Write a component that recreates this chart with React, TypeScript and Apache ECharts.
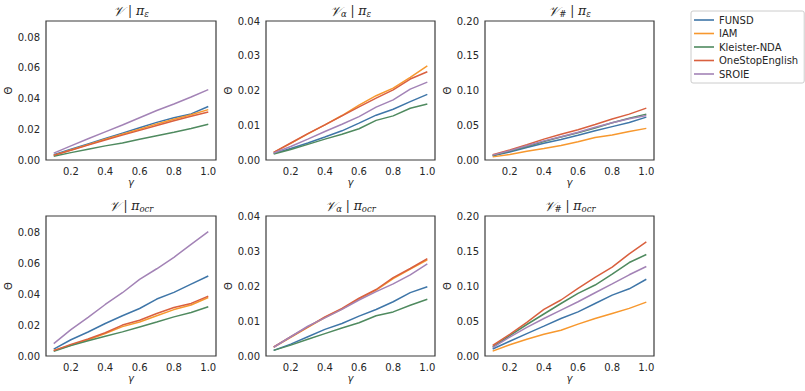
import React, { useEffect, useRef } from "react";
import * as echarts from "echarts";

const gammas = [0.1, 0.2, 0.3, 0.4, 0.5, 0.6, 0.7, 0.8, 0.9, 1.0];
const datasets = ["FUNSD", "IAM", "Kleister-NDA", "OneStopEnglish", "SROIE"];
const colors = ["#3f76a8", "#f7982e", "#4f8a5f", "#d9603f", "#a383b6"];

// V | pi_eps
const vEpsFUNSD = [0.0035, 0.007, 0.0105, 0.014, 0.0175, 0.021, 0.0245, 0.0275, 0.030, 0.0348];
const vEpsIAM = [0.003, 0.0065, 0.010, 0.0135, 0.0168, 0.020, 0.0235, 0.0265, 0.0295, 0.0328];
const vEpsKleister = [0.0025, 0.0048, 0.007, 0.0092, 0.011, 0.0135, 0.0158, 0.018, 0.0205, 0.0233];
const vEpsOneStop = [0.003, 0.0063, 0.0097, 0.013, 0.0162, 0.0193, 0.0225, 0.0255, 0.0285, 0.0313];
const vEpsSROIE = [0.0045, 0.0092, 0.0138, 0.0183, 0.0228, 0.0275, 0.0322, 0.0365, 0.041, 0.0458];

// V_alpha | pi_eps
const vaEpsFUNSD = [0.0019, 0.0033, 0.0049, 0.0066, 0.0084, 0.0106, 0.0129, 0.0146, 0.0168, 0.0189];
const vaEpsIAM = [0.0022, 0.0048, 0.0075, 0.0101, 0.0128, 0.0158, 0.0185, 0.0207, 0.0238, 0.0271];
const vaEpsKleister = [0.0017, 0.003, 0.0045, 0.006, 0.0074, 0.009, 0.0114, 0.0127, 0.0149, 0.0161];
const vaEpsOneStop = [0.0022, 0.0049, 0.0076, 0.0101, 0.0127, 0.0153, 0.0178, 0.0202, 0.0233, 0.0254];
const vaEpsSROIE = [0.002, 0.0039, 0.006, 0.0082, 0.0103, 0.0125, 0.0152, 0.0173, 0.0204, 0.0224];

// V_# | pi_eps
const vhEpsFUNSD = [0.006, 0.0115, 0.018, 0.024, 0.0295, 0.0355, 0.042, 0.048, 0.054, 0.0617];
const vhEpsIAM = [0.0045, 0.008, 0.0125, 0.0165, 0.021, 0.0263, 0.0325, 0.0359, 0.041, 0.0455];
const vhEpsKleister = [0.0065, 0.013, 0.0195, 0.0265, 0.033, 0.039, 0.046, 0.0535, 0.06, 0.066];
const vhEpsOneStop = [0.0075, 0.0145, 0.022, 0.03, 0.037, 0.0435, 0.051, 0.059, 0.066, 0.0746];
const vhEpsSROIE = [0.007, 0.0135, 0.0205, 0.0275, 0.0335, 0.04, 0.047, 0.0535, 0.0595, 0.064];

// V | pi_ocr
const vOcrFUNSD = [0.0045, 0.0105, 0.0155, 0.021, 0.026, 0.0307, 0.0368, 0.0411, 0.0465, 0.0517];
const vOcrIAM = [0.0035, 0.007, 0.0105, 0.0145, 0.019, 0.022, 0.026, 0.030, 0.033, 0.0378];
const vOcrKleister = [0.003, 0.0068, 0.0098, 0.0128, 0.0156, 0.0188, 0.022, 0.0253, 0.0281, 0.0318];
const vOcrOneStop = [0.0035, 0.0075, 0.011, 0.015, 0.020, 0.0231, 0.0275, 0.0314, 0.034, 0.0387];
const vOcrSROIE = [0.008, 0.017, 0.025, 0.0333, 0.0409, 0.0495, 0.0564, 0.0638, 0.0722, 0.0804];

// V_alpha | pi_ocr
const vaOcrFUNSD = [0.0016, 0.0034, 0.0055, 0.0076, 0.0093, 0.0114, 0.0133, 0.0155, 0.0181, 0.0198];
const vaOcrIAM = [0.0025, 0.0053, 0.0082, 0.011, 0.0134, 0.0163, 0.0188, 0.0221, 0.0248, 0.0275];
const vaOcrKleister = [0.0016, 0.0031, 0.0048, 0.0064, 0.008, 0.0095, 0.0115, 0.0126, 0.0145, 0.0162];
const vaOcrOneStop = [0.0026, 0.0055, 0.0083, 0.0112, 0.0136, 0.0165, 0.019, 0.0224, 0.025, 0.0278];
const vaOcrSROIE = [0.0025, 0.0055, 0.0085, 0.0109, 0.0133, 0.016, 0.0184, 0.0206, 0.0232, 0.0263];

// V_# | pi_ocr
const vhOcrFUNSD = [0.010, 0.021, 0.032, 0.0426, 0.0536, 0.063, 0.075, 0.087, 0.096, 0.1096];
const vhOcrIAM = [0.007, 0.016, 0.024, 0.031, 0.0368, 0.0455, 0.0536, 0.0608, 0.068, 0.077];
const vhOcrKleister = [0.013, 0.029, 0.045, 0.060, 0.075, 0.0895, 0.1014, 0.117, 0.1335, 0.145];
const vhOcrOneStop = [0.015, 0.031, 0.048, 0.0665, 0.080, 0.0967, 0.1124, 0.127, 0.146, 0.163];
const vhOcrSROIE = [0.012, 0.027, 0.041, 0.0536, 0.0655, 0.0775, 0.0904, 0.103, 0.116, 0.1278];

const panels = [
  { title: "{v|𝒱} | {pi|π}{sub|ε}", data: [vEpsFUNSD, vEpsIAM, vEpsKleister, vEpsOneStop, vEpsSROIE] },
  { title: "{v|𝒱}{sub|α} | {pi|π}{sub|ε}", data: [vaEpsFUNSD, vaEpsIAM, vaEpsKleister, vaEpsOneStop, vaEpsSROIE] },
  { title: "{v|𝒱}{sub|#} | {pi|π}{sub|ε}", data: [vhEpsFUNSD, vhEpsIAM, vhEpsKleister, vhEpsOneStop, vhEpsSROIE] },
  { title: "{v|𝒱} | {pi|π}{sub|ocr}", data: [vOcrFUNSD, vOcrIAM, vOcrKleister, vOcrOneStop, vOcrSROIE] },
  { title: "{v|𝒱}{sub|α} | {pi|π}{sub|ocr}", data: [vaOcrFUNSD, vaOcrIAM, vaOcrKleister, vaOcrOneStop, vaOcrSROIE] },
  { title: "{v|𝒱}{sub|#} | {pi|π}{sub|ocr}", data: [vhOcrFUNSD, vhOcrIAM, vhOcrKleister, vhOcrOneStop, vhOcrSROIE] },
];

const xTicks = [0.2, 0.4, 0.6, 0.8, 1.0];
const yTicksCol = [
  [0, 0.02, 0.04, 0.06, 0.08],
  [0, 0.01, 0.02, 0.03, 0.04],
  [0, 0.05, 0.1, 0.15, 0.2],
];
const yMaxCol = [0.0905, 0.04, 0.2];

const colLeft = [46, 266, 485];
const colWidth = [170, 169, 169];
const rowTop = [21, 216];
const rowHeight = [139, 140];

const FONT = "DejaVu Sans";
const TXT = "#262626";

export default function App() {
  const ref = useRef<HTMLDivElement>(null);
  useEffect(() => {
    if (!ref.current) return;
    const chart = echarts.init(ref.current, undefined, { renderer: "svg" });
    const grid: any[] = [];
    const xAxis: any[] = [];
    const yAxis: any[] = [];
    const series: any[] = [];
    const title: any[] = [];
    panels.forEach((p, i) => {
      const r = Math.floor(i / 3);
      const c = i % 3;
      grid.push({
        left: colLeft[c],
        top: rowTop[r],
        width: colWidth[c],
        height: rowHeight[r],
        show: true,
        borderColor: "#3a3a3a",
        borderWidth: 1.2,
        containLabel: false,
      });
      xAxis.push({
        type: "value",
        gridIndex: i,
        min: 0.055,
        max: 1.045,
        axisLine: { show: false },
        axisTick: { show: false },
        splitLine: { show: false },
        axisLabel: {
          customValues: xTicks,
          formatter: (v: number) => v.toFixed(1),
          color: TXT,
          fontFamily: FONT,
          fontSize: 10,
          margin: 6,
        },
        name: "γ",
        nameLocation: "middle",
        nameGap: 17,
        nameTextStyle: { color: TXT, fontFamily: FONT, fontSize: 10, fontStyle: "italic" },
      });
      yAxis.push({
        type: "value",
        gridIndex: i,
        min: 0,
        max: yMaxCol[c],
        axisLine: { show: false },
        axisTick: { show: false },
        splitLine: { show: false },
        axisLabel: {
          customValues: yTicksCol[c],
          formatter: (v: number) => v.toFixed(2),
          color: TXT,
          fontFamily: FONT,
          fontSize: 10,
          margin: 6,
        },
        name: "Θ",
        nameLocation: "middle",
        nameGap: 31,
        nameRotate: 90,
        nameTextStyle: { color: TXT, fontFamily: FONT, fontSize: 10 },
      });
      title.push({
        text: p.title,
        left: colLeft[c] + colWidth[c] / 2,
        top: rowTop[r] - 18,
        textAlign: "center",
        padding: 0,
        textStyle: {
          color: TXT,
          fontFamily: "DejaVu Serif",
          fontSize: 12,
          fontWeight: "normal",
          rich: {
            v: { fontFamily: "DejaVu Serif", fontSize: 13.5, color: TXT, fontStyle: "italic" },
            pi: { fontFamily: "DejaVu Serif", fontSize: 12.5, color: TXT, fontStyle: "italic" },
            sub: { fontFamily: "DejaVu Serif", fontSize: 8.5, color: TXT, fontStyle: "italic", padding: [6, 0, 0, 0] },
          },
        },
      });
      p.data.forEach((vals, k) => {
        series.push({
          type: "line",
          name: datasets[k],
          xAxisIndex: i,
          yAxisIndex: i,
          data: gammas.map((g, j) => [g, vals[j]]),
          symbol: "none",
          lineStyle: { color: colors[k], width: 1.5 },
          itemStyle: { color: colors[k] },
          z: 2,
        });
      });
    });
    chart.setOption({
      animation: false,
      backgroundColor: "#ffffff",
      title,
      grid,
      xAxis,
      yAxis,
      series,
      legend: {
        data: datasets.map((d) => ({ name: d, icon: "rect" })),
        orient: "vertical",
        left: 691,
        top: 11,
        padding: [3, 6, 3, 3],
        itemGap: 1.5,
        itemWidth: 20,
        itemHeight: 1.6,
        borderColor: "#cccccc",
        borderWidth: 1,
        borderRadius: 2,
        textStyle: { color: TXT, fontFamily: FONT, fontSize: 10, lineHeight: 12 },
      },
    });
    return () => chart.dispose();
  }, []);
  return (
    <div
      ref={ref}
      style={{ position: "fixed", left: 0, top: 0, width: 805, height: 391, background: "#fff" }}
    />
  );
}
